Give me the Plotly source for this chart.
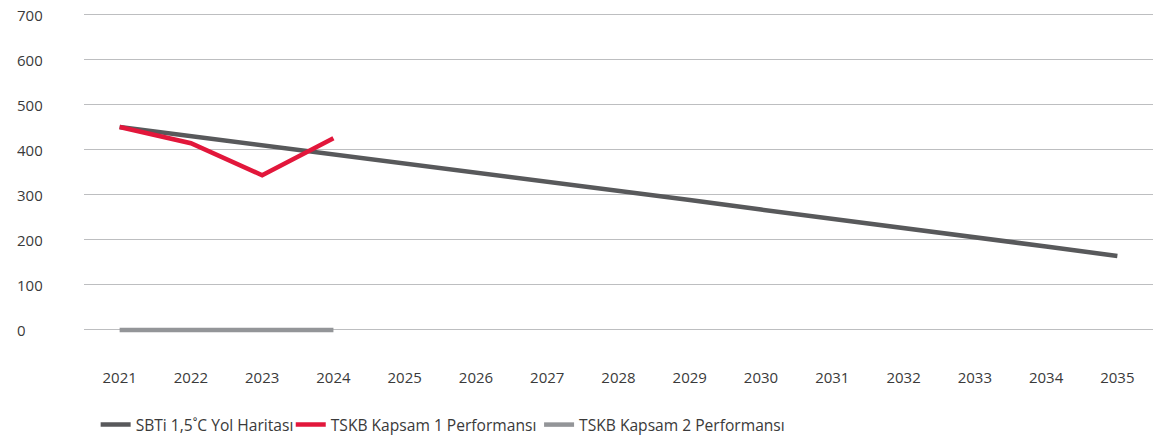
import plotly.graph_objects as go

years = [str(y) for y in range(2021, 2036)]
sbti_path = [450, 430, 410, 390, 370, 350, 329, 308, 288, 267, 247, 226, 206, 185, 164]
scope1_years = ["2021", "2022", "2023", "2024"]
scope1_values = [450, 414, 343, 425]
scope2_years = ["2021", "2022", "2023", "2024"]
scope2_values = [0, 0, 0, 0]
y_ticks = [0, 100, 200, 300, 400, 500, 600, 700]

FONT = "Open Sans"
TEXT = "#3a3a3a"

fig = go.Figure()
fig.add_trace(go.Scatter(x=years, y=sbti_path, mode="lines", name="SBTi 1,5˚C Yol Haritası",
                         line=dict(color="#58595b", width=4.5), legend="legend"))
fig.add_trace(go.Scatter(x=scope1_years, y=scope1_values, mode="lines", name="TSKB Kapsam 1 Performansı",
                         line=dict(color="#e2173b", width=4.5), legend="legend2"))
fig.add_trace(go.Scatter(x=scope2_years, y=scope2_values, mode="lines", name="TSKB Kapsam 2 Performansı",
                         line=dict(color="#939598", width=4.5), legend="legend3"))

# y tick labels are left aligned in the source, so draw them as annotations
for v in y_ticks:
    fig.add_annotation(x=-0.065, xref="paper", y=v, yref="y", text=str(v), showarrow=False,
                       xanchor="left", yanchor="middle", height=15,
                       font=dict(family=FONT, size=15, color=TEXT))

# one legend per series so the entries sit as tightly as in the source
legend_style = dict(orientation="h", xanchor="left", y=-0.229, yanchor="middle",
                    bgcolor="rgba(0,0,0,0)",
                    font=dict(family=FONT, size=15.6, color=TEXT), itemwidth=30)

# page body adds an 8px margin, so the figure is sized to fit the window
fig.update_layout(
    width=1157, height=432,
    margin=dict(l=76, r=12, t=4, b=92, autoexpand=False),
    paper_bgcolor="white", plot_bgcolor="white",
    font=dict(family=FONT, size=15, color=TEXT),
    showlegend=True,
    legend=dict(x=0.0109, **legend_style),
    legend2=dict(x=0.1934, **legend_style),
    legend3=dict(x=0.4257, **legend_style),
)
fig.update_xaxes(type="category", categoryorder="array", categoryarray=years,
                 range=[-0.5, 14.5], showgrid=False, zeroline=False, showline=False,
                 ticks="outside", ticklen=16, tickcolor="rgba(0,0,0,0)",
                 tickfont=dict(family=FONT, size=15, color=TEXT))
fig.update_yaxes(range=[-40, 705], tickvals=y_ticks, showticklabels=False,
                 showgrid=True, gridcolor="#bdbec0", gridwidth=1, zeroline=False, showline=False)

fig.write_html("out.html")
